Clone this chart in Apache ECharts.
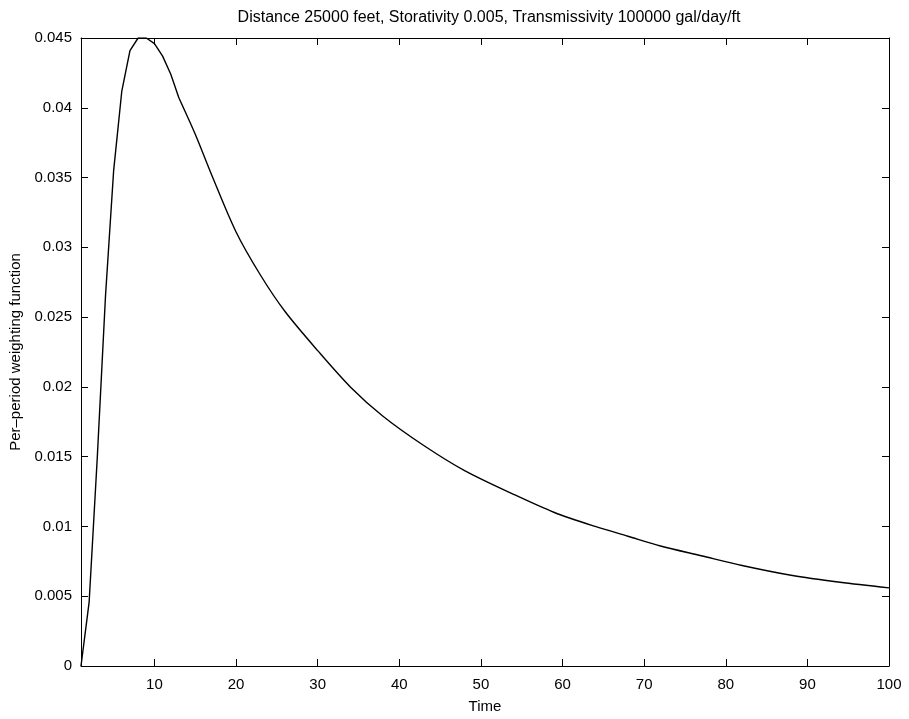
<!DOCTYPE html>
<html>
<head>
<meta charset="utf-8">
<script src="https://cdn.jsdelivr.net/npm/echarts@6/dist/echarts.min.js"></script>
<style>
  html, body { margin: 0; padding: 0; background: #fff; }
  #chart { width: 909px; height: 719px; }
</style>
</head>
<body>
<div id="chart"></div>
<script>
// Per-period weighting function of the aquifer response, sampled over time
const timeValues = [1, 2, 3, 4, 5, 6, 7, 8, 9, 10, 11, 12, 13, 15, 17, 20, 23, 26, 30, 34, 38, 43, 48, 54, 59, 64, 68, 72, 77, 82, 88, 94, 100];
const weightValues = [0, 0.0046, 0.0150, 0.0265, 0.0355, 0.0412, 0.0441, 0.0450, 0.0450, 0.0446, 0.0437, 0.0424, 0.0407, 0.0381, 0.0352, 0.0311, 0.0280, 0.0254, 0.0226, 0.0200, 0.0179, 0.0158, 0.0140, 0.0123, 0.0110, 0.0100, 0.0093, 0.0086, 0.0079, 0.0072, 0.0065, 0.0060, 0.0056];
const xTickValues = [10, 20, 30, 40, 50, 60, 70, 80, 90, 100];
const yTickValues = [0, 0.005, 0.01, 0.015, 0.02, 0.025, 0.03, 0.035, 0.04, 0.045];

const titleText = 'Distance 25000 feet, Storativity 0.005, Transmissivity 100000 gal/day/ft';
const xName = 'Time';
const yName = 'Per\u2013period weighting function';

const font = 'Liberation Sans, Arial, Helvetica, sans-serif';
const ink = '#000';

// Rise and peak are drawn as a plain polyline; the long decay is sampled more
// sparsely, so it is drawn with a gentle smoothing.
const points = timeValues.map((t, i) => [t, weightValues[i]]);
const splitAt = timeValues.indexOf(13);
const risePoints = points.slice(0, splitAt + 1);
const decayPoints = points.slice(splitAt);

const chart = echarts.init(document.getElementById('chart'), null, { renderer: 'canvas' });

const baseX = {
  type: 'value', min: 1, max: 100,
  axisLine: { show: true, onZero: false, lineStyle: { color: ink, width: 1 } },
  axisTick: { show: true, inside: true, length: 7, customValues: xTickValues, lineStyle: { color: ink } },
  splitLine: { show: false }
};
const baseY = {
  type: 'value', min: 0, max: 0.045,
  axisLine: { show: true, onZero: false, lineStyle: { color: ink, width: 1 } },
  axisTick: { show: true, inside: true, length: 7, customValues: yTickValues, lineStyle: { color: ink } },
  splitLine: { show: false }
};

const lineStyle = { color: ink, width: 1.4 };

chart.setOption({
  animation: false,
  backgroundColor: '#fff',
  title: {
    text: titleText,
    left: 484, top: 5, textAlign: 'center',
    textStyle: { fontFamily: font, fontSize: 16, fontWeight: 'normal', color: ink }
  },
  grid: { left: 78, right: 20, top: 38, bottom: 49, containLabel: false },
  xAxis: [
    Object.assign({}, baseX, {
      position: 'bottom',
      name: xName, nameLocation: 'middle', nameGap: 33,
      nameTextStyle: { fontFamily: font, fontSize: 15, color: ink },
      axisLabel: { show: true, customValues: xTickValues, margin: 11, fontFamily: font, fontSize: 15, color: ink }
    }),
    Object.assign({}, baseX, { position: 'top', axisLabel: { show: false } })
  ],
  yAxis: [
    Object.assign({}, baseY, {
      position: 'left',
      name: yName, nameLocation: 'middle', nameGap: 58,
      nameTextStyle: { fontFamily: font, fontSize: 15, color: ink },
      axisLabel: {
        show: true, customValues: yTickValues, margin: 9,
        fontFamily: font, fontSize: 15, color: ink,
        formatter: v => String(+v.toFixed(3))
      }
    }),
    Object.assign({}, baseY, { position: 'right', axisLabel: { show: false } })
  ],
  series: [{
    type: 'line',
    xAxisIndex: 0, yAxisIndex: 0,
    data: risePoints,
    showSymbol: false,
    smooth: false,
    clip: true,
    lineStyle: lineStyle
  }, {
    type: 'line',
    xAxisIndex: 0, yAxisIndex: 0,
    data: decayPoints,
    showSymbol: false,
    smooth: 0.3,
    clip: true,
    lineStyle: lineStyle
  }]
});
</script>
</body>
</html>
